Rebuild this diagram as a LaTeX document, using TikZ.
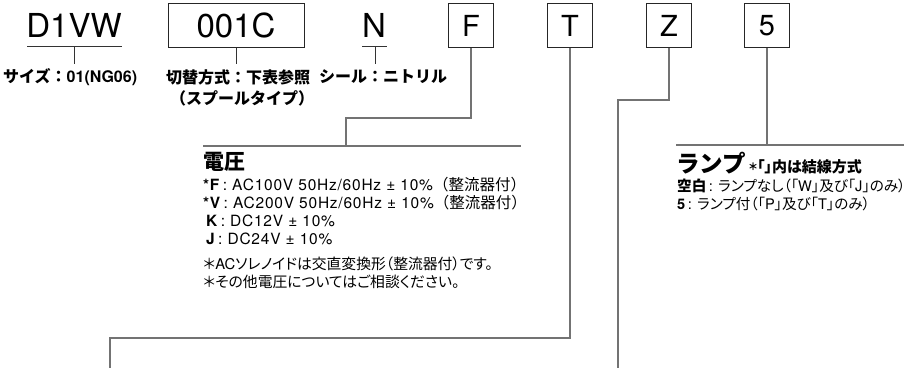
\documentclass[tikz,border=0pt]{standalone}
\usepackage{fontspec}
\setmainfont{Noto Sans CJK JP}
\newfontfamily\palt[CharacterWidth=AlternateProportional]{Noto Sans CJK JP}
\newfontfamily\lat{TeX Gyre Heros}
\newfontfamily\latw[LetterSpace=5]{TeX Gyre Heros}
\newcommand\latn[1]{{\lat #1}}
\newcommand\latwide[1]{{\latw #1}}
\begin{document}
\begin{tikzpicture}[x=1pt,y=-1pt,
  code/.style={inner sep=0pt, font=\lat\fontsize{33}{33}\selectfont},
  codebox/.style={draw=black!85, line width=0.9pt, minimum width=45pt, minimum height=44pt, inner sep=0pt, font=\lat\fontsize{29}{29}\selectfont},
  lbl/.style={inner sep=0pt, anchor=west, font=\bfseries\fontsize{16}{16}\selectfont},
  body/.style={inner sep=0pt, anchor=west, font=\fontsize{15.5}{15.5}\selectfont},
  note/.style={inner sep=0pt, anchor=west, font=\palt\fontsize{14.8}{14.8}\selectfont},
  lamp/.style={inner sep=0pt, anchor=west, font=\palt\fontsize{14.6}{14.6}\selectfont},
  ttl/.style={inner sep=0pt, anchor=west, font=\bfseries\fontsize{21}{21}\selectfont},
  tick/.style={draw=black!80, line width=0.8pt},
  conn/.style={draw=black!55, line width=1.3pt}
]
\useasboundingbox (0,0) rectangle (912,368);
% top codes
\node[code] (d1vw) at (74,25) {D1VW};
\coordinate (u1a) at (27,46); \coordinate (u1b) at (122,46);
\coordinate (u1m) at (74,46); \coordinate (u1e) at (74,64);
\draw[tick] (u1a) -- (u1b); \draw[tick] (u1m) -- (u1e);
\node[codebox, minimum width=136pt] (c001) at (236,25.5) {\fontsize{33}{33}\selectfont 001C};
\coordinate (c1e) at (c001.south |- u1e);
\draw[tick] (c001.south) -- (c1e);
\node[code] (n) at (374,25) {N};
\coordinate (u3a) at (362,46); \coordinate (u3b) at (387,46);
\coordinate (u3m) at (375,46); \coordinate (u3e) at (375,64);
\draw[tick] (u3a) -- (u3b); \draw[tick] (u3m) -- (u3e);
\node[codebox] (f) at (471,25.5) {F};
\node[codebox] (t) at (570,25.5) {T};
\node[codebox] (z) at (669,25.5) {Z};
\node[codebox] (five) at (767,25.5) {5};
% labels
\node[lbl] (l1) at (3,77) {サイズ：{\lat\bfseries 01(NG06)}};
\node[lbl] (l2) at (166,77) {切替方式：下表参照};
\node[lbl] (l2b) at (170,98) {（スプールタイプ）};
\node[lbl] (l3) at (319,77) {シール：ニトリル};
% voltage block
\coordinate (vh1) at (203,146); \coordinate (vh2) at (521,146);
\draw[conn] (vh1) -- (vh2);
\coordinate (fb1) at (471,118); \coordinate (fb2) at (346,118); \coordinate (fb3) at (346,146);
\draw[conn] (f.south) -- (fb1) -- (fb2) -- (fb3);
\node[ttl] (vt) at (203,162) {電圧};
\node[body] (v1) at (203,185) {\latwide{\textbf{*F}\,: AC100V 50Hz/60Hz ± 10\%}（整流器付）};
\node[body] (v2) at (203,203) {\latwide{\textbf{*V}\,: AC200V 50Hz/60Hz ± 10\%}（整流器付）};
\node[body] (v3) at (206,221) {\latwide{\textbf{K}\,: DC12V ± 10\%}};
\node[body] (v4) at (206,239) {\latwide{\textbf{J}\,: DC24V ± 10\%}};
\node[note] (v5) at (203,264) {＊\latn{AC}ソレノイドは交直変換形（整流器付）です。};
\node[note] (v6) at (203,282) {＊その他電圧についてはご相談ください。};
% lamp block
\coordinate (lh1) at (676,145); \coordinate (lh2) at (904,145);
\draw[conn] (lh1) -- (lh2);
\coordinate (lb) at (767,145);
\draw[conn] (five.south) -- (lb);
\node[ttl, font=\bfseries\fontsize{23.5}{23.5}\selectfont] (lt) at (676,163) {ランプ\hspace{3pt}{\palt\bfseries\fontsize{15}{15}\selectfont \raisebox{2pt}{\fontsize{10}{10}\selectfont ＊}「」内は結線方式}};
\node[lamp] (r1) at (677,186) {\textbf{空白}\latn{\,: }ランプなし（「\latn{W}」及び「\latn{J}」のみ）};
\node[lamp] (r2) at (677,204) {\latn{\textbf{5}\,: }ランプ付（「\latn{P}」及び「\latn{T}」のみ）};
% T and Z connectors
\coordinate (tb1) at (570,338); \coordinate (tb2) at (110,338); \coordinate (tb3) at (110,368);
\draw[conn] (t.south) -- (tb1) -- (tb2) -- (tb3);
\coordinate (zb1) at (669,100); \coordinate (zb2) at (618,100); \coordinate (zb3) at (618,368);
\draw[conn] (z.south) -- (zb1) -- (zb2) -- (zb3);
\end{tikzpicture}
\end{document}
